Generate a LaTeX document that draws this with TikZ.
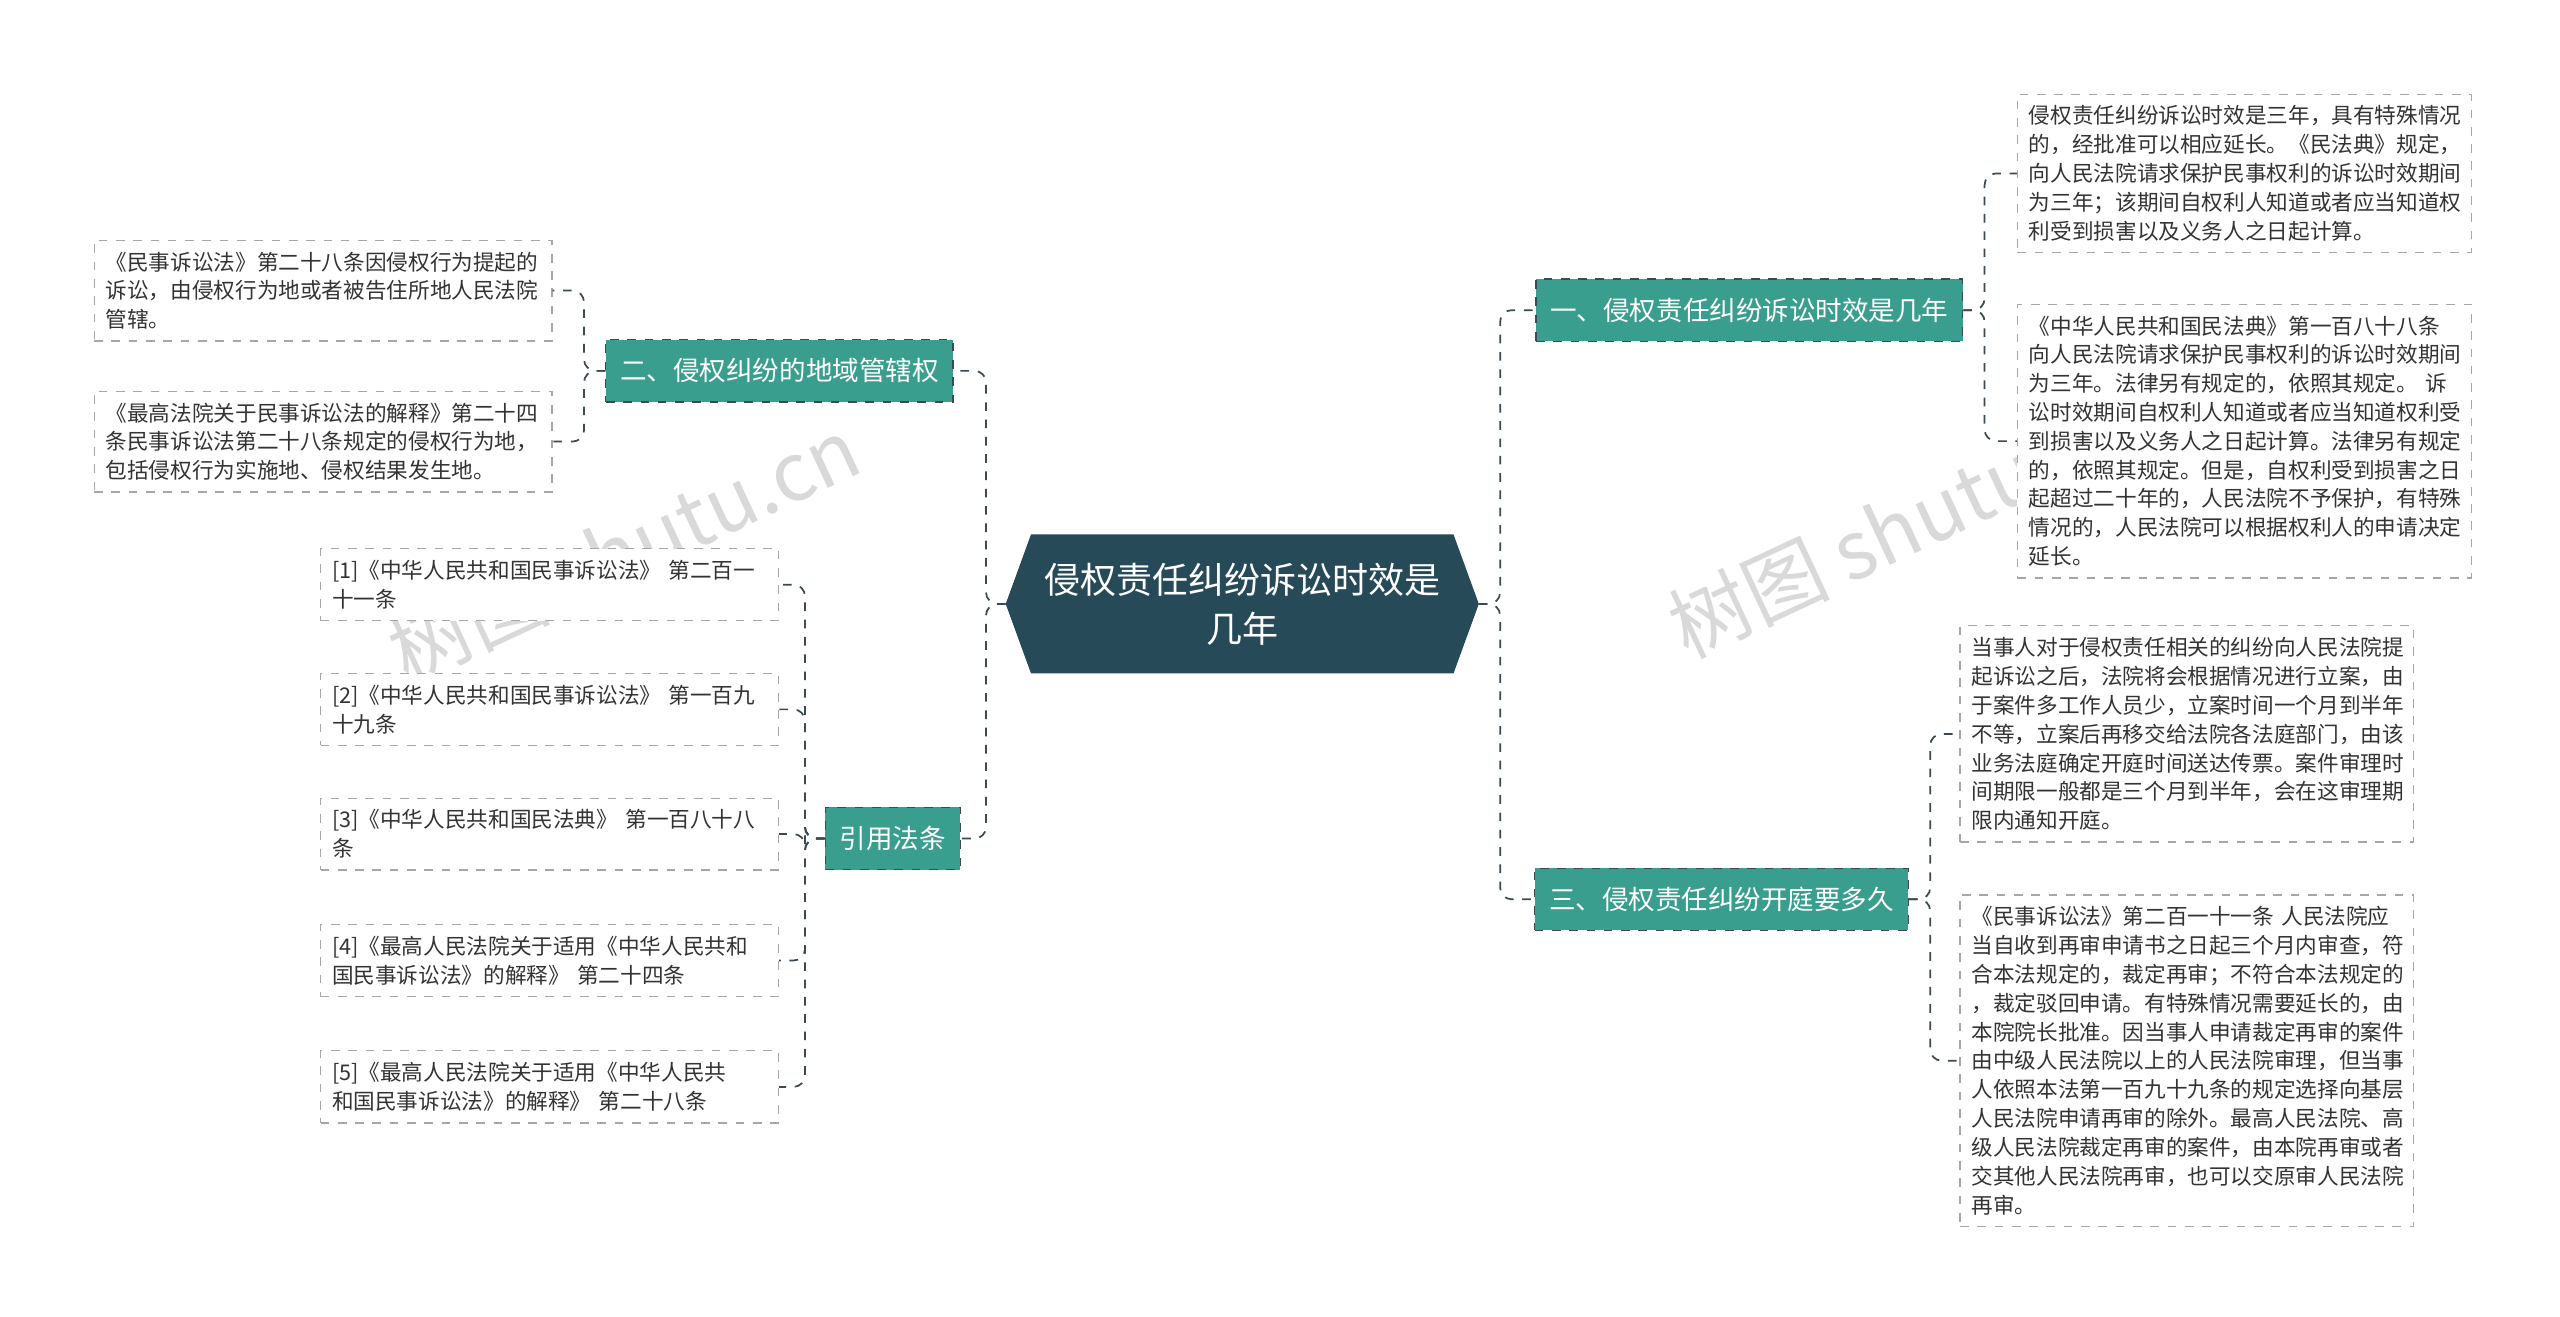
\documentclass[tikz,border=0pt]{standalone}
\usepackage{fontspec}
\setmainfont{Noto Sans CJK SC}
\usepackage{xcolor}
\usetikzlibrary{positioning,calc,shapes.symbols}

\definecolor{hubcol}{HTML}{264A57}
\definecolor{branchcol}{HTML}{3A9E8F}
\definecolor{linecol}{HTML}{3A4A50}
\definecolor{leaftext}{HTML}{333333}

\begin{document}
\begin{tikzpicture}[x=0.02cm,y=-0.02cm,
  hub/.style={shape=signal, signal to=east and west, signal pointer angle=140,
    fill=hubcol, draw=hubcol, text=white, font=\fontsize{12.5}{17}\selectfont,
    align=center, text width=5.0cm, inner sep=2pt, minimum height=1.68cm},
  branch/.style={fill=branchcol, draw=linecol, dashed, text=white,
    font=\fontsize{9.2}{11}\selectfont, minimum height=0.76cm, inner xsep=5pt},
  leaf/.style={fill=white, draw=gray!70, dashed, text=leaftext, align=left,
    font=\fontsize{7.5}{10}\selectfont, inner sep=4pt, anchor=north west},
  conn/.style={draw=linecol, dashed, rounded corners=4pt, line width=0.6pt},
  wmark/.style={text=gray!30, font=\fontsize{28}{30}\selectfont, rotate=25}]
  \useasboundingbox (0,0) rectangle (1560,802);
  % watermarks
  \node[wmark] (wm1) at (380,335) {树图 shutu.cn};
  \node[wmark] (wm2) at (1160,320) {树图 shutu.cn};
  % hub and branches
  \node[hub] (c) at (757,368) {侵权责任纠纷诉讼时效是\\几年};
  \node[branch] (b1) at (1066,189) {一、侵权责任纠纷诉讼时效是几年};
  \node[branch] (b3) at (1049,548) {三、侵权责任纠纷开庭要多久};
  \node[branch] (b2) at (475,226) {二、侵权纠纷的地域管辖权};
  \node[branch] (bref) at (544,511) {引用法条};
  % right leaves
  \node[leaf, text width=5.25cm] (r1a) at (1229,57) {侵权责任纠纷诉讼时效是三年，具有特殊情况\\的，经批准可以相应延长。《民法典》规定，\\向人民法院请求保护民事权利的诉讼时效期间\\为三年；该期间自权利人知道或者应当知道权\\利受到损害以及义务人之日起计算。};
  \node[leaf, text width=5.25cm] (r1b) at (1229,185) {《中华人民共和国民法典》第一百八十八条\\向人民法院请求保护民事权利的诉讼时效期间\\为三年。法律另有规定的，依照其规定。 诉\\讼时效期间自权利人知道或者应当知道权利受\\到损害以及义务人之日起计算。法律另有规定\\的，依照其规定。但是，自权利受到损害之日\\起超过二十年的，人民法院不予保护，有特殊\\情况的，人民法院可以根据权利人的申请决定\\延长。};
  \node[leaf, text width=5.25cm] (r3a) at (1194,381) {当事人对于侵权责任相关的纠纷向人民法院提\\起诉讼之后，法院将会根据情况进行立案，由\\于案件多工作人员少，立案时间一个月到半年\\不等，立案后再移交给法院各法庭部门，由该\\业务法庭确定开庭时间送达传票。案件审理时\\间期限一般都是三个月到半年，会在这审理期\\限内通知开庭。};
  \node[leaf, text width=5.25cm] (r3b) at (1194,545) {《民事诉讼法》第二百一十一条 人民法院应\\当自收到再审申请书之日起三个月内审查，符\\合本法规定的，裁定再审；不符合本法规定的\\，裁定驳回申请。有特殊情况需要延长的，由\\本院院长批准。因当事人申请裁定再审的案件\\由中级人民法院以上的人民法院审理，但当事\\人依照本法第一百九十九条的规定选择向基层\\人民法院申请再审的除外。最高人民法院、高\\级人民法院裁定再审的案件，由本院再审或者\\交其他人民法院再审，也可以交原审人民法院\\再审。};
  % left leaves
  \node[leaf, text width=5.3cm] (l2a) at (57,146) {《民事诉讼法》第二十八条因侵权行为提起的\\诉讼，由侵权行为地或者被告住所地人民法院\\管辖。};
  \node[leaf, text width=5.3cm] (l2b) at (57,238) {《最高法院关于民事诉讼法的解释》第二十四\\条民事诉讼法第二十八条规定的侵权行为地，\\包括侵权行为实施地、侵权结果发生地。};
  \foreach \n/\y/\t in {1/334/{[1]《中华人民共和国民事诉讼法》 第二百一\\十一条},
                      2/410/{[2]《中华人民共和国民事诉讼法》 第一百九\\十九条},
                      3/486/{[3]《中华人民共和国民法典》 第一百八十八\\条},
                      4/563/{[4]《最高人民法院关于适用《中华人民共和\\国民事诉讼法》的解释》 第二十四条},
                      5/640/{[5]《最高人民法院关于适用《中华人民共\\和国民事诉讼法》的解释》 第二十八条}}
    \node[leaf, text width=5.3cm] (ref\n) at (195,\y) {\t};
  % connectors
  \foreach \b in {b1,b3} \draw[conn] (c.east) -- ++(13,0) |- (\b.west);
  \foreach \b in {b2,bref} \draw[conn] (c.west) -- ++(-12,0) |- (\b.east);
  \foreach \l in {r1a,r1b} \draw[conn] (b1.east) -- ++(13,0) |- (\l.west);
  \foreach \l in {r3a,r3b} \draw[conn] (b3.east) -- ++(13,0) |- (\l.west);
  \foreach \l in {l2a,l2b} \draw[conn] (b2.west) -- ++(-13,0) |- (\l.east);
  \foreach \n in {1,...,5} \draw[conn] (bref.west) -- ++(-12,0) |- (ref\n.east);
\end{tikzpicture}
\end{document}
